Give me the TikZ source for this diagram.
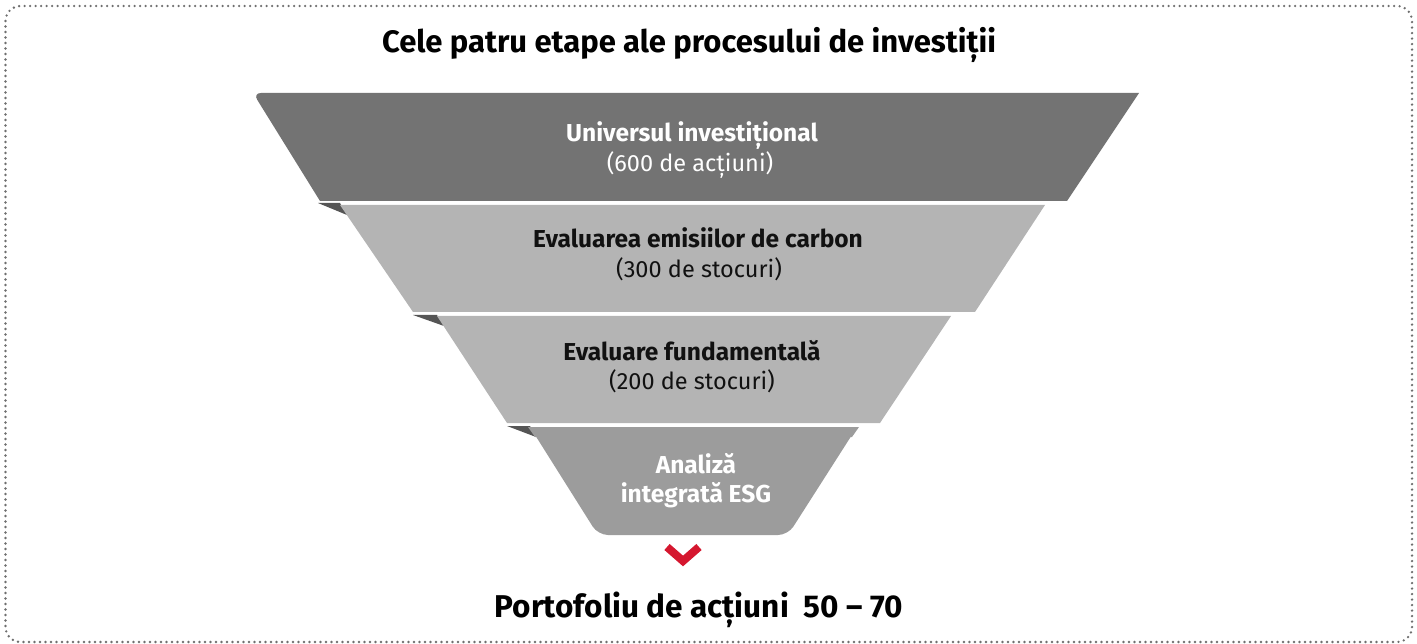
\documentclass[tikz,border=0pt]{standalone}
\usepackage{fontspec}
\setmainfont{Fira Sans}
\definecolor{layerdark}{HTML}{737373}
\definecolor{layerlight}{HTML}{B4B4B4}
\definecolor{layermid}{HTML}{9C9C9C}
\definecolor{foldgray}{HTML}{555555}
\definecolor{framegray}{HTML}{6E6E6E}
\definecolor{chevred}{HTML}{D5172F}
\definecolor{textblack}{HTML}{111111}
\begin{document}
\begin{tikzpicture}[x=1pt,y=-1pt,
  frame/.style={draw=framegray, line width=2.6pt, dash pattern=on 0pt off 5.5pt, line cap=round, rounded corners=15pt},
  fold/.style={fill=foldgray},
  boldtxt/.style={anchor=base, inner sep=0pt, font=\fontsize{24.5}{30}\selectfont\bfseries},
  regtxt/.style={anchor=base, inner sep=0pt, font=\fontsize{23.5}{30}\selectfont},
  headtxt/.style={anchor=base, inner sep=0pt, font=\fontsize{31}{38}\selectfont\bfseries, text=black},
  foottxt/.style={anchor=base, inner sep=0pt, font=\fontsize{31.5}{38}\selectfont\bfseries, text=black},
  chevron/.style={draw=chevred, line width=8pt, line cap=butt, line join=miter}
]
\useasboundingbox (0,0) rectangle (1417,644);
\draw[frame] (5.5,6) rectangle (1412,642);

% title
\node[headtxt] (title) at (689,53) {Cele patru etape ale procesului de investiții};

% layer 1
\fill[layerdark, rounded corners=8pt] (320,201) -- (253,93) [sharp corners] -- (1139,93) -- (1067,201) -- cycle;
% fold 1
\fill[fold] (318,203) -- (340,203) -- (347,215) -- cycle;
% layer 2
\fill[layerlight] (340,205) -- (1045,205) -- (975,312) -- (413,312) -- cycle;
% fold 2
\fill[fold] (413,315) -- (437,315) -- (444,326) -- cycle;
% layer 3
\fill[layerlight] (437,316) -- (951,316) -- (880,423) -- (507,423) -- cycle;
% fold 3
\fill[fold] (507,426) -- (530,426) -- (536,437) -- cycle;
% layer 4
\fill[layermid, rounded corners=10pt] (530,427) -- (857,427) -- (788,535) -- (598,535) -- cycle;
\fill[layermid] (528,427) -- (859,427) -- (852,437) -- (535,437) -- cycle;

% layer texts
\node[boldtxt, text=white] (u1) at (692,142) {Universul investițional};
\node[regtxt, text=white] (u2) at (690,172) {(600 de acțiuni)};
\node[boldtxt, text=textblack] (e1) at (698,248) {Evaluarea emisiilor de carbon};
\node[regtxt, text=textblack] (e2) at (699,278) {(300 de stocuri)};
\node[boldtxt, text=textblack] (f1) at (692,361) {Evaluare fundamentală};
\node[regtxt, text=textblack] (f2) at (692,390) {(200 de stocuri)};
\node[boldtxt, text=white] (a1) at (696,473) {Analiză};
\node[boldtxt, text=white] (a2) at (696,502) {integrată ESG};

% chevron
\coordinate (chl) at (667,547);
\coordinate (chm) at (683,561);
\coordinate (chr) at (699,547);
\draw[chevron] (chl) -- (chm) -- (chr);

% footer
\node[foottxt] (foot) at (699,617) {Portofoliu de acțiuni\ \ 50 – 70};
\end{tikzpicture}
\end{document}
